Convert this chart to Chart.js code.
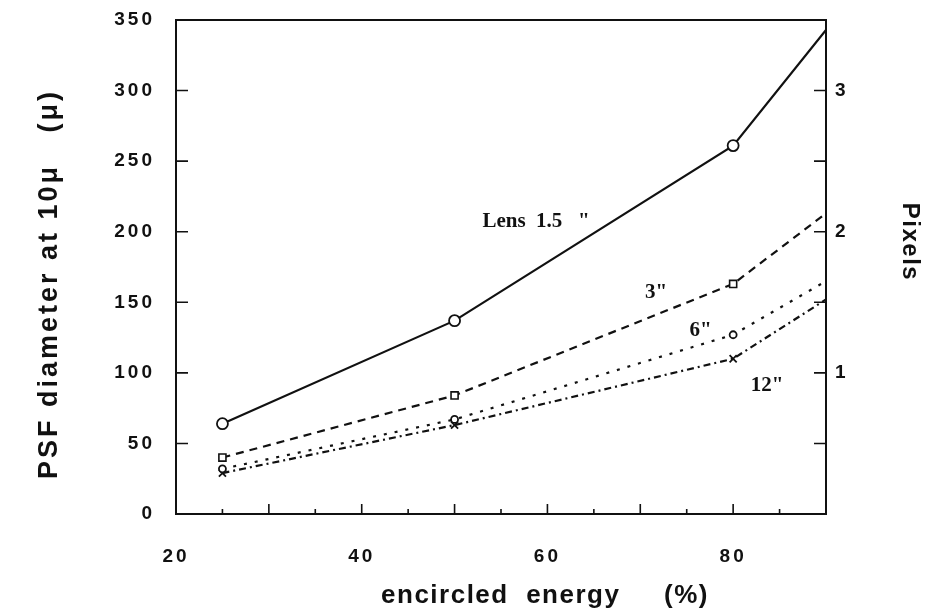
<!DOCTYPE html>
<html lang="en">
<head>
<meta charset="UTF-8">
<title>PSF diameter vs encircled energy</title>
<script src="https://cdn.jsdelivr.net/npm/chart.js"></script>
<style>
  html, body { margin: 0; padding: 0; background: #fff; }
  #wrap { width: 949px; height: 610px; }
</style>
</head>
<body>
<div id="wrap"><canvas id="psfChart" width="949" height="610"></canvas></div>
<script>
// encircled energy (%) where the curves were computed
const energy = [25, 50, 80, 90];
// PSF diameter at 10 micron (micron), one list per lens
const lens15 = [64, 137, 261, 343];
const lens3 = [40, 84, 163, 213];
const lens6 = [32, 67, 127, 165];
const lens12 = [29, 63, 110, 152];

const curveNames = ['Lens  1.5   "', '3"', '6"', '12"'];
// anchor of each curve name, in data units (energy, diameter)
const nameAnchors = [[53, 207], [70.5, 157], [75.3, 130], [81.9, 91]];

const xLabelled = [20, 40, 60, 80];
const pixelLabelled = [1, 2, 3];

const INK = '#111';
const SANS = '"Liberation Sans", Arial, sans-serif';
const SERIF = '"Liberation Serif", "Times New Roman", serif';

function series(vals) {
  return energy.map((e, i) => ({ x: e, y: vals[i] }));
}
// markers only on the computed points, not on the 90% end
const markR = r => energy.map(e => (e === 90 ? 0 : r));

// fixed axis sizes so the plot frame sits where the original has it
function fixSize(w, h) {
  return s => {
    if (w != null) s.width = w;
    if (h != null) s.height = h;
    s.paddingTop = s.paddingBottom = s.paddingLeft = s.paddingRight = 0;
  };
}

// frame, inward ticks, curve names, axis titles
const decor = {
  id: 'decor',
  beforeDraw(chart) {
    const ctx = chart.ctx;
    ctx.save();
    ctx.fillStyle = '#fff';
    ctx.fillRect(0, 0, chart.width, chart.height);
    ctx.restore();
    ctx.letterSpacing = '3px';
  },
  afterDatasetsDraw(chart) {
    const ctx = chart.ctx;
    const a = chart.chartArea;
    const xs = chart.scales.x, ys = chart.scales.y, ps = chart.scales.y2;
    ctx.save();
    ctx.letterSpacing = '0px';
    ctx.strokeStyle = INK;
    ctx.lineWidth = 2;
    ctx.strokeRect(a.left, a.top, a.right - a.left, a.bottom - a.top);

    ctx.lineWidth = 1.6;
    ctx.beginPath();
    xs.ticks.forEach(t => {
      if (t.value <= xs.min || t.value >= xs.max) return;
      const px = xs.getPixelForValue(t.value);
      const len = t.value % 10 === 0 ? 10 : 5;
      ctx.moveTo(px, a.bottom);
      ctx.lineTo(px, a.bottom - len);
    });
    ys.ticks.forEach(t => {
      if (t.value <= ys.min || t.value >= ys.max) return;
      const py = ys.getPixelForValue(t.value);
      ctx.moveTo(a.left, py);
      ctx.lineTo(a.left + 12, py);
    });
    ps.ticks.forEach(t => {
      if (t.value <= ps.min || t.value >= ps.max) return;
      const py = ps.getPixelForValue(t.value);
      ctx.moveTo(a.right, py);
      ctx.lineTo(a.right - 12, py);
    });
    ctx.stroke();

    ctx.fillStyle = INK;
    ctx.font = 'bold 21px ' + SERIF;
    ctx.textAlign = 'left';
    ctx.textBaseline = 'middle';
    curveNames.forEach((name, i) => {
      const [ex, dy] = nameAnchors[i];
      ctx.fillText(name, xs.getPixelForValue(ex), ys.getPixelForValue(dy));
    });

    ctx.textAlign = 'center';
    ctx.font = 'bold 26px ' + SANS;
    ctx.letterSpacing = '1.5px';
    ctx.fillText('encircled  energy     (%)', (a.left + a.right) / 2 + 44, a.bottom + 82);

    ctx.save();
    ctx.font = 'bold 27px ' + SANS;
    ctx.letterSpacing = '3px';
    ctx.translate(50, (a.top + a.bottom) / 2 + 17);
    ctx.rotate(-Math.PI / 2);
    ctx.fillText('PSF diameter at 10\u03bc   (\u03bc)', 0, 0);
    ctx.restore();

    ctx.save();
    ctx.font = 'bold 24px ' + SANS;
    ctx.letterSpacing = '1.5px';
    ctx.translate(910, (a.top + a.bottom) / 2 - 25);
    ctx.rotate(Math.PI / 2);
    ctx.fillText('Pixels', 0, 0);
    ctx.restore();
    ctx.restore();
  }
};

const tickFont = { family: SANS, size: 19, weight: 'bold' };
const noGrid = { display: false, drawTicks: false };

new Chart(document.getElementById('psfChart'), {
  type: 'line',
  data: {
    datasets: [
      {
        label: 'Lens 1.5"',
        data: series(lens15),
        borderColor: INK,
        borderWidth: 2.2,
        pointStyle: 'circle',
        pointRadius: markR(5.5),
        pointBorderWidth: 1.8,
        pointBorderColor: INK,
        pointBackgroundColor: '#fff'
      },
      {
        label: '3"',
        data: series(lens3),
        borderColor: INK,
        borderWidth: 2.2,
        borderDash: [8, 6],
        pointStyle: 'rect',
        pointRadius: markR(5),
        pointBorderWidth: 1.6,
        pointBorderColor: INK,
        pointBackgroundColor: '#fff'
      },
      {
        label: '6"',
        data: series(lens6),
        borderColor: INK,
        borderWidth: 2.2,
        borderDash: [3, 8],
        pointStyle: 'circle',
        pointRadius: markR(3.5),
        pointBorderWidth: 1.8,
        pointBorderColor: INK,
        pointBackgroundColor: '#fff'
      },
      {
        label: '12"',
        data: series(lens12),
        borderColor: INK,
        borderWidth: 2.2,
        borderDash: [7, 4, 2, 4],
        pointStyle: 'crossRot',
        pointRadius: markR(5),
        pointBorderWidth: 1.8,
        pointBorderColor: INK
      }
    ]
  },
  options: {
    responsive: false,
    devicePixelRatio: 1,
    animation: false,
    layout: { padding: { top: 20, left: 0, right: 0, bottom: 0 } },
    plugins: { legend: { display: false }, tooltip: { enabled: false } },
    scales: {
      x: {
        type: 'linear',
        min: 20,
        max: 90,
        grid: noGrid,
        border: { display: false },
        afterFit: fixSize(null, 96),
        ticks: {
          stepSize: 5,
          autoSkip: false,
          maxRotation: 0,
          padding: 31,
          color: INK,
          font: tickFont,
          callback: v => (xLabelled.includes(v) ? String(v) : '')
        }
      },
      y: {
        position: 'left',
        min: 0,
        max: 350,
        grid: noGrid,
        border: { display: false },
        afterFit: fixSize(176, null),
        ticks: { stepSize: 50, padding: 21, color: INK, font: tickFont }
      },
      y2: {
        position: 'right',
        min: 0,
        max: 3.5,
        grid: noGrid,
        border: { display: false },
        afterFit: fixSize(123, null),
        ticks: {
          stepSize: 0.5,
          padding: 9,
          color: INK,
          font: tickFont,
          callback: v => (pixelLabelled.includes(v) ? String(v) : '')
        }
      }
    }
  },
  plugins: [decor]
});
</script>
</body>
</html>
